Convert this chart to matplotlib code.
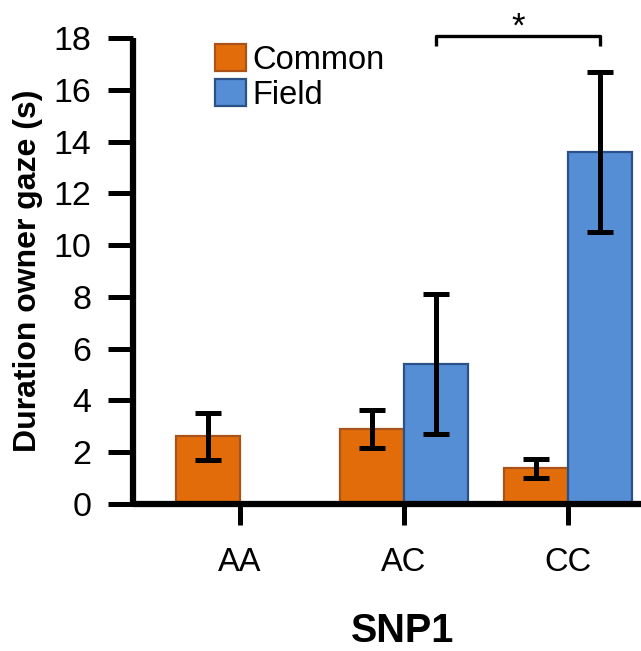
import numpy as np
import matplotlib
matplotlib.use("Agg")
import matplotlib.pyplot as plt

plt.rcParams['font.family'] = ['Liberation Sans', 'DejaVu Sans']

genotypes = ['AA', 'AC', 'CC']
common = [2.6, 2.9, 1.37]
common_err = [0.9, 0.74, 0.37]
field = [np.nan, 5.4, 13.6]
field_err = [np.nan, 2.72, 3.1]
yticks = [0, 2, 4, 6, 8, 10, 12, 14, 16, 18]

orange = '#E36C0A'
orange_edge = '#A9531A'
blue = '#558ED5'
blue_edge = '#2A5288'

fig = plt.figure(figsize=(6.41, 6.51), dpi=100)
ax = fig.add_axes([0.2075, 0.2263, 0.7925, 0.7149])

x = np.arange(len(genotypes))
w = 0.39
ax.bar(x - w/2, common, w, color=orange, edgecolor=orange_edge, linewidth=1.6,
       label='Common', zorder=2)
fmask = ~np.isnan(field)
ax.bar(x[fmask] + w/2, np.array(field)[fmask], w, color=blue, edgecolor=blue_edge,
       linewidth=1.6, label='Field', zorder=2)

ekw = dict(fmt='none', ecolor='black', elinewidth=3.6, capsize=9.5, capthick=3.6, zorder=3)
ax.errorbar(x - w/2, common, yerr=common_err, **ekw)
ax.errorbar(x[fmask] + w/2, np.array(field)[fmask], yerr=np.array(field_err)[fmask], **ekw)

ax.set_ylim(0, 18)
ax.set_xlim(-0.652, 2.445)
ax.set_yticks(yticks)
ax.set_yticklabels([str(t) for t in yticks])
ax.set_xticks(x)
ax.set_xticklabels(genotypes)

for s in ['top', 'right']:
    ax.spines[s].set_visible(False)
for s in ['left', 'bottom']:
    ax.spines[s].set_linewidth(4.5)
    ax.spines[s].set_capstyle('butt')

ax.tick_params(axis='y', direction='out', length=18, width=3.6, labelsize=24.5, pad=12)
ax.tick_params(axis='x', direction='out', length=15, width=3.6, labelsize=23.5, pad=16)

ax.set_ylabel('Duration owner gaze (s)', fontsize=23, fontweight='bold')
ax.yaxis.set_label_coords(-0.178, 0.5)
ax.set_xlabel('SNP1', fontsize=28.5, fontweight='bold', va='top')
ax.xaxis.set_label_coords(0.531, -0.232)

# significance bracket
x1, x2 = 1 + w/2, 2 + w/2
yb, yt = 17.7, 18.08
ax.plot([x1, x1, x2, x2], [yb, yt, yt, yb], color='black', lw=2.4, clip_on=False,
        solid_capstyle='butt', zorder=4)
ax.text((x1 + x2) / 2, 18.45, '*', ha='center', va='center', fontsize=25,
        clip_on=False)

leg = ax.legend(loc='upper left', bbox_to_anchor=(0.335, 0.932), bbox_transform=fig.transFigure,
                frameon=False, fontsize=23.5, handlelength=0.95, handleheight=0.9,
                handletextpad=0.2, labelspacing=0.1, borderpad=0, borderaxespad=0)

fig.savefig('out.png', dpi=100)
